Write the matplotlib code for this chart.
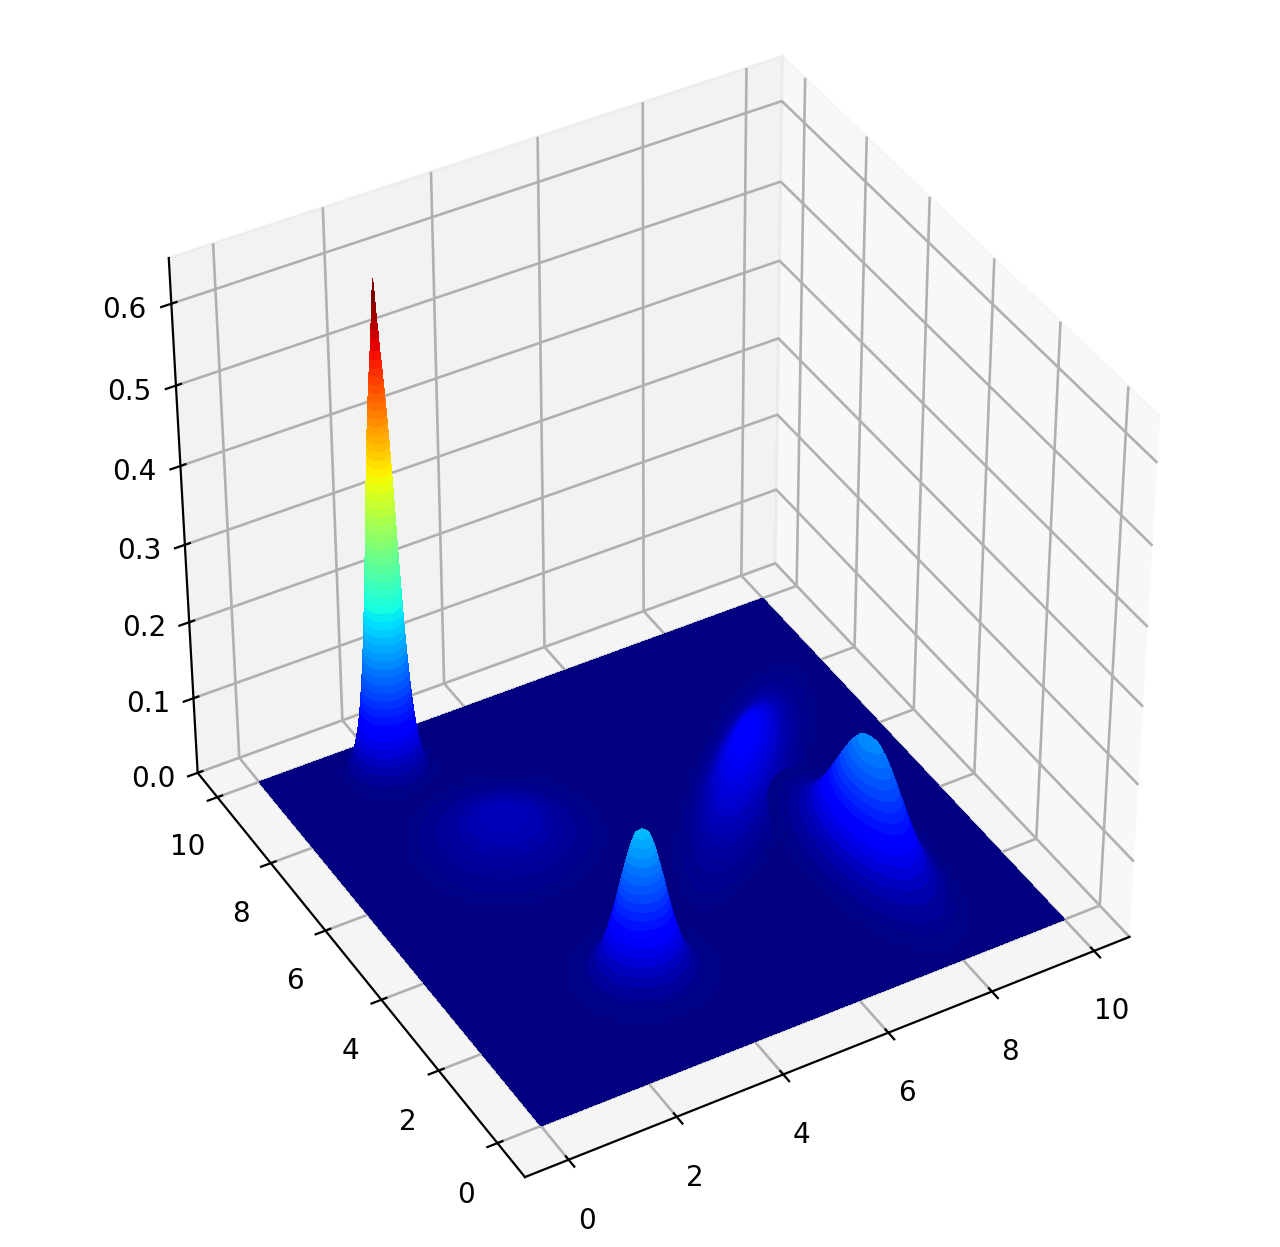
import numpy as np
import matplotlib
matplotlib.use('Agg')
import matplotlib.pyplot as plt
from matplotlib.colors import Normalize

plt.rcParams['grid.linewidth'] = 0.95

# ground plane extent
plane_x = [0, 10]
plane_y = [0, 10]
plane_z = [[0, 0], [0, 0]]

# each bump: ring radius and the height at that radius
spike_r = [0, .012, .024, .032, .042, .052, .064, .078, .09, .103, .116, .128, .14, .151, .163, .173, .183, .193, .203, .212, .221, .229,
           .237, .245, .253, .261, .268, .276, .283, .291, .298, .305, .312, .32, .327, .335, .342, .35, .358, .366, .374, .383,
           .392, .401, .41, .42, .43, .441, .452, .464, .476, .49, .504, .52, .536, .555, .575, .6, .63, .665, .708, .776, .839, 1.0]
spike_z = [.625, .615, .605, .595, .585, .575, .565, .555, .54, .53, .52, .51, .50, .49, .48, .47, .46, .45, .44, .43, .42, .41,
           .40, .39, .38, .37, .36, .35, .34, .33, .32, .31, .30, .29, .28, .27, .26, .25, .24, .23, .22, .21,
           .20, .19, .18, .17, .16, .15, .14, .13, .12, .11, .10, .09, .08, .07, .06, .05, .04, .03, .02, .01, .005, 0]

front_r = [0, .121, .174, .217, .254, .289, .322, .355, .387, .419, .452, .486, .523, .562, .604, .653, .711, .785, .897, .997, 1.3]
front_z = [.187, .18, .17, .16, .15, .14, .13, .12, .11, .10, .09, .08, .07, .06, .05, .04, .03, .02, .01, .005, 0]

right_r = [0, .359, .517, .644, .759, .866, .97, 1.072, 1.177, 1.286, 1.4, 1.525, 1.665, 1.83, 2.039, 2.355, 2.633, 3.0]
right_z = [.16, .15, .14, .13, .12, .11, .10, .09, .08, .07, .06, .05, .04, .03, .02, .01, .005, 0]

back_r = [0, .452, .604, .734, .854, .97, 1.084, 1.201, 1.323, 1.455, 1.6, 1.771, 1.987, 2.31, 2.59, 3.2]
back_z = [.075, .065, .06, .055, .05, .045, .04, .035, .03, .025, .02, .015, .01, .005, .0025, 0]

low_r = [0, .555, .82, 1.058, 1.302, 1.583, 1.973, 2.3, 3.0]
low_z = [.035, .03, .025, .02, .015, .01, .005, .0025, 0]

# centre x, centre y, stretch x, stretch y, turn in degrees
low_shape = [2.9, 6.5, .75, .75, 0]
back_shape = [7.14, 5.72, .38, 1.3, -43]
spike_shape = [2.09, 9.21, .85, .85, 0]
right_shape = [7.97, 3.03, .38, .9, 0]
front_shape = [3.27, 2.44, 1.0, 1.0, 0]

norm = Normalize(0, .60)


def draw_bump(ax, shape, r, z, order):
    cx, cy, sx, sy, deg = shape
    t = np.radians(np.arange(0, 366, 6))
    R, T = np.meshgrid(r, t)
    u = R * np.cos(T) * sx
    v = R * np.sin(T) * sy
    a = np.radians(deg)
    #keep the rings on the plane
    X = np.clip(cx + u * np.cos(a) - v * np.sin(a), 0, 10)
    Y = np.clip(cy + u * np.sin(a) + v * np.cos(a), 0, 10)
    Z = np.tile(z, (len(t), 1))
    ax.plot_surface(X, Y, Z, rstride=1, cstride=1, cmap='jet', norm=norm,
                    linewidth=0, antialiased=False, zorder=order)


fig = plt.figure(figsize=(6.4, 6.235), dpi=200)
ax = fig.add_axes([.0, .003, 1, 1], projection='3d', computed_zorder=False)
ax.set_box_aspect((1, 1, .945), zoom=.931)

PX, PY = np.meshgrid(plane_x, plane_y)
ax.plot_surface(PX, PY, np.array(plane_z, dtype=float), cmap='jet', norm=norm,
                linewidth=0, antialiased=False, zorder=1)

draw_bump(ax, low_shape, low_r, low_z, 2)
draw_bump(ax, back_shape, back_r, back_z, 3)
draw_bump(ax, spike_shape, spike_r, spike_z, 4)
draw_bump(ax, right_shape, right_r, right_z, 5)
draw_bump(ax, front_shape, front_r, front_z, 6)

ax.view_init(elev=38.9, azim=-120)
ax.set_xlim(-.8, 10.7)
ax.set_ylim(-.92, 10.75)
ax.set_zlim(0, .655)
ax.set_xticks([0, 2, 4, 6, 8, 10])
ax.set_yticks([0, 2, 4, 6, 8, 10])
ax.set_zticks([0, .1, .2, .3, .4, .5, .6])
ax.tick_params(axis='x', pad=4)
ax.tick_params(axis='y', pad=4)

fig.savefig('out.png', dpi=200)
